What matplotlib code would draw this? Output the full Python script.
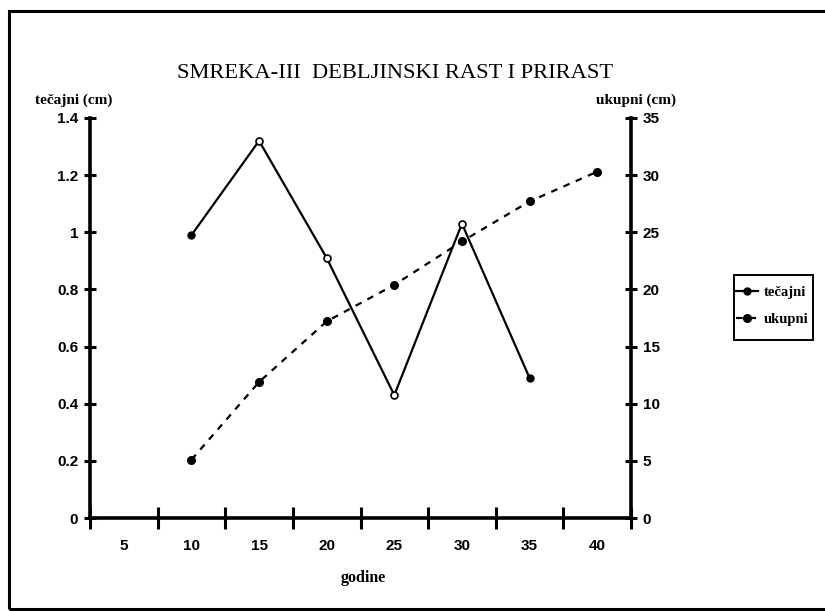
import matplotlib
matplotlib.use("Agg")
import matplotlib.pyplot as plt
from matplotlib.patches import Rectangle
from matplotlib.lines import Line2D
import numpy as np

categories = ["5", "10", "15", "20", "25", "30", "35", "40"]
tecajni = [None, 0.99, 1.32, 0.91, 0.43, 1.03, 0.49, None]
ukupni = [None, 5.1, 11.9, 17.2, 20.4, 24.2, 27.7, 30.3]
left_ticks = [0, 0.2, 0.4, 0.6, 0.8, 1.0, 1.2, 1.4]
left_labels = ["0", "0.2", "0.4", "0.6", "0.8", "1", "1.2", "1.4"]
right_ticks = [0, 5, 10, 15, 20, 25, 30, 35]

W, H = 825, 611
fig = plt.figure(figsize=(W / 100, H / 100), dpi=100)

# outer frame (right edge runs off the picture as in the scan)
fig.patches.append(Rectangle((9 / W, 1 - 609 / H), (840 - 9) / W, (609 - 11) / H,
                             transform=fig.transFigure, fill=False, lw=2.2,
                             edgecolor="black"))

ax = fig.add_axes([90 / W, 93 / H, (631 - 90) / W, 400 / H])
ax2 = ax.twinx()

x = np.arange(len(categories))
t = np.array([np.nan if v is None else v for v in tecajni], dtype=float)
u = np.array([np.nan if v is None else v for v in ukupni], dtype=float)

ax.plot(x, t, color="black", lw=1.6, zorder=3)
valid_t = [i for i in range(len(t)) if not np.isnan(t[i])]
ends = [valid_t[0], valid_t[-1]]
mids = valid_t[1:-1]
ax.plot(x[ends], t[ends], "o", color="black", ms=5, zorder=4)
ax.plot(x[mids], t[mids], "o", mfc="white", mec="black", mew=1.2, ms=5, zorder=4)

ax2.plot(x, u, color="black", lw=1.6, ls=(0, (3, 3)), marker="o", ms=5.5, zorder=3)

ax.set_xlim(-0.5, len(categories) - 0.5)
ax.set_ylim(0, 1.4)
ax2.set_ylim(0, 35)

tick_font = dict(fontfamily="Liberation Sans", fontweight="bold", fontsize=11)

ax.set_xticks(np.arange(-0.5, len(categories), 1.0))
ax.set_xticklabels([])
ax.set_xticks(x, minor=True)
ax.set_xticklabels(categories, minor=True, **tick_font)
ax.tick_params(axis="x", which="major", direction="inout", length=16, width=2.2)
ax.tick_params(axis="x", which="minor", length=0, pad=15)

ax.set_yticks(left_ticks)
ax.set_yticklabels(left_labels, **tick_font)
ax.tick_params(axis="y", direction="inout", length=9, width=2.2, pad=4)

ax2.set_yticks(right_ticks)
ax2.set_yticklabels([str(v) for v in right_ticks], **tick_font)
ax2.tick_params(axis="y", direction="inout", length=9, width=2.2, pad=4)

for a in (ax, ax2):
    a.spines["top"].set_visible(False)
    for s in ("left", "right", "bottom"):
        a.spines[s].set_linewidth(2.6)
ax2.spines["bottom"].set_visible(False)
ax.spines["right"].set_visible(False)
ax2.spines["left"].set_visible(False)

fig.text(395 / W, 1 - 73 / H, "SMREKA-III  DEBLJINSKI RAST I PRIRAST",
         ha="center", va="center", fontfamily="Liberation Serif", fontsize=16.2)
fig.text(74 / W, 1 - 100 / H, "tečajni (cm)", ha="center", va="center",
         fontfamily="Liberation Serif", fontweight="bold", fontsize=11)
fig.text(636 / W, 1 - 100 / H, "ukupni (cm)", ha="center", va="center",
         fontfamily="Liberation Serif", fontweight="bold", fontsize=11)
fig.text(363 / W, 1 - 578 / H, "godine", ha="center", va="center",
         fontfamily="Liberation Serif", fontweight="bold", fontsize=11.5)

# legend with a hand-sized frame
fig.patches.append(Rectangle((734 / W, 1 - 340 / H), (813 - 734) / W, (340 - 275) / H,
                             transform=fig.transFigure, fill=False, lw=1.4,
                             edgecolor="black"))
handles = [Line2D([], [], color="black", lw=1.6, marker="o", ms=5),
           Line2D([], [], color="black", lw=1.6, ls=(0, (3, 3)), marker="o", ms=5.5)]
leg = fig.legend(handles, ["tečajni", "ukupni"], loc="center left",
                 bbox_to_anchor=(735 / W, 1 - 306 / H),
                 prop={"family": "Liberation Serif", "weight": "bold", "size": 10.5},
                 frameon=False, handlelength=1.5,
                 borderpad=0.1, labelspacing=0.95, handletextpad=0.4,
                 borderaxespad=0)

fig.savefig("out.png", dpi=100)
